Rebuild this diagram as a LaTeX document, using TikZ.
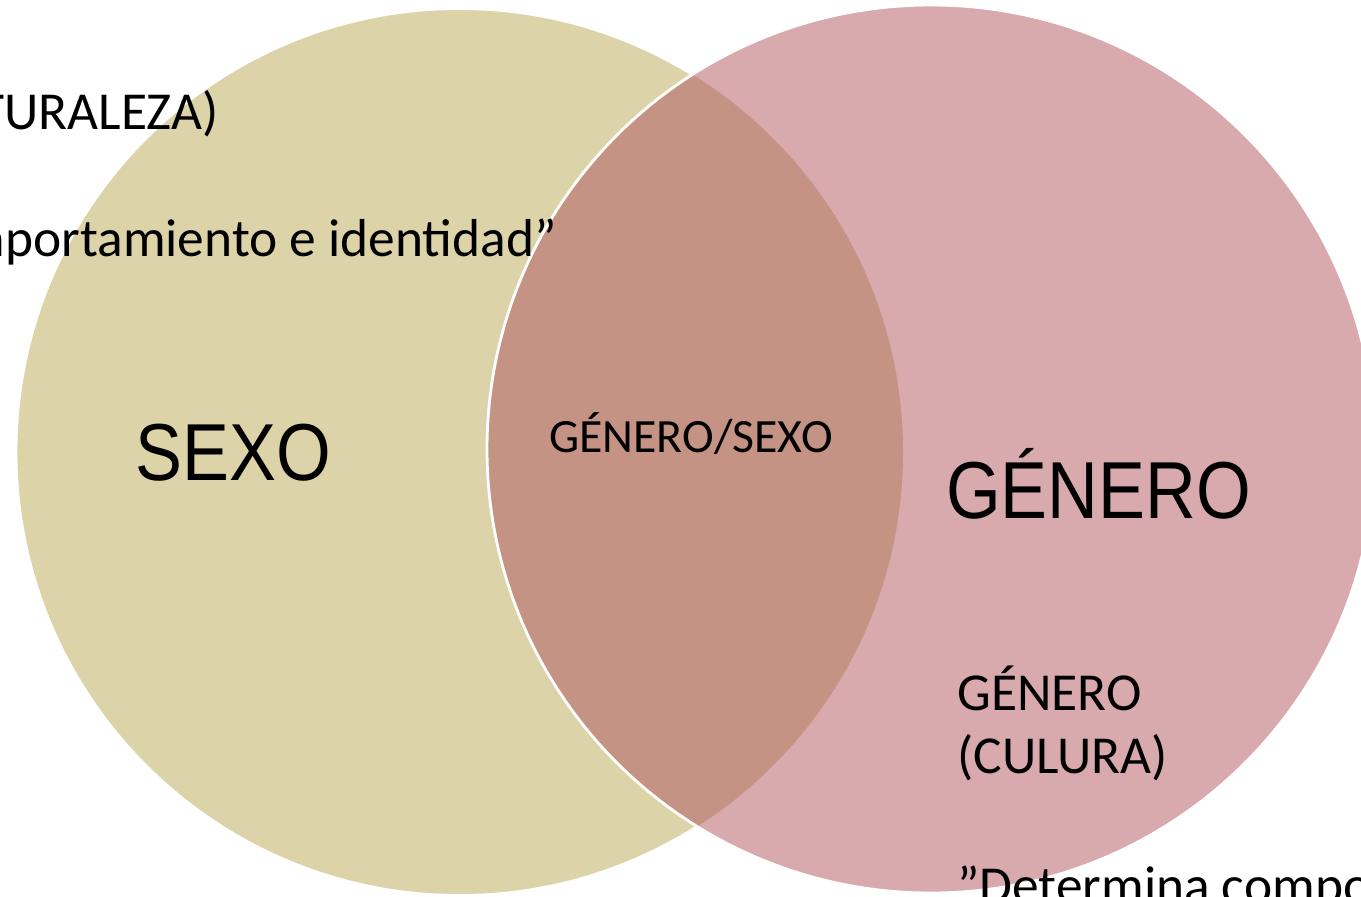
\documentclass[tikz,border=0pt]{standalone}
\usepackage{fontspec}
\setmainfont{Carlito}
\newfontfamily\anchafont[FakeStretch=0.87]{Liberation Sans}
\definecolor{arena}{RGB}{220,211,169}
\definecolor{rosa}{RGB}{216,169,173}
\definecolor{cruce}{RGB}{196,147,131}

\begin{document}
\begin{tikzpicture}[x=0.02cm, y=0.02cm,
    texto/.style={inner sep=0pt, font=\fontsize{30.4}{36}\selectfont},
    grande/.style={inner sep=0pt, font=\anchafont\fontsize{46}{52}\selectfont},
    borde/.style={draw=white, line width=1.6pt}]
        \useasboundingbox (0,0) rectangle (1361,-896);
        \clip (0,0) rectangle (1361,-896);

        % centros de los circulos
        \coordinate (csexo) at (459.5,-452);
        \coordinate (cgenero) at (931,-449);

        % circulo SEXO
        \fill[arena] (csexo) circle[radius=443.5];
        \draw[borde] (csexo) circle[radius=443.5];

        % circulo GENERO y cruce
        \fill[rosa] (cgenero) circle[radius=444];
        \begin{scope}
          \clip (csexo) circle[radius=443.5];
          \fill[cruce] (cgenero) circle[radius=444];
        \end{scope}
        \draw[borde] (cgenero) circle[radius=444];

        % textos del circulo izquierdo
        \node[texto, anchor=base east] (natur) at (219,-129) {TURALEZA)};
        \node[texto, anchor=base east] (ident) at (557,-256) {mportamiento e identidad”};
        \node[grande, anchor=base] (sexo) at (233.5,-480) {SEXO};

        % texto del cruce
        \node[texto, anchor=base, font=\fontsize{27.2}{32}\selectfont] (ambos) at (691,-452) {GÉNERO/SEXO};

        % textos del circulo derecho
        \node[grande, anchor=base] (genero) at (1098.5,-518) {GÉNERO};
        \node[texto, anchor=base west] (gen2) at (957,-710) {GÉNERO};
        \node[texto, anchor=base west] (cult) at (957,-773) {(CULURA)};
        \node[texto, anchor=base west] (deter) at (957,-903) {”Determina compo};

    \end{tikzpicture}
\end{document}
